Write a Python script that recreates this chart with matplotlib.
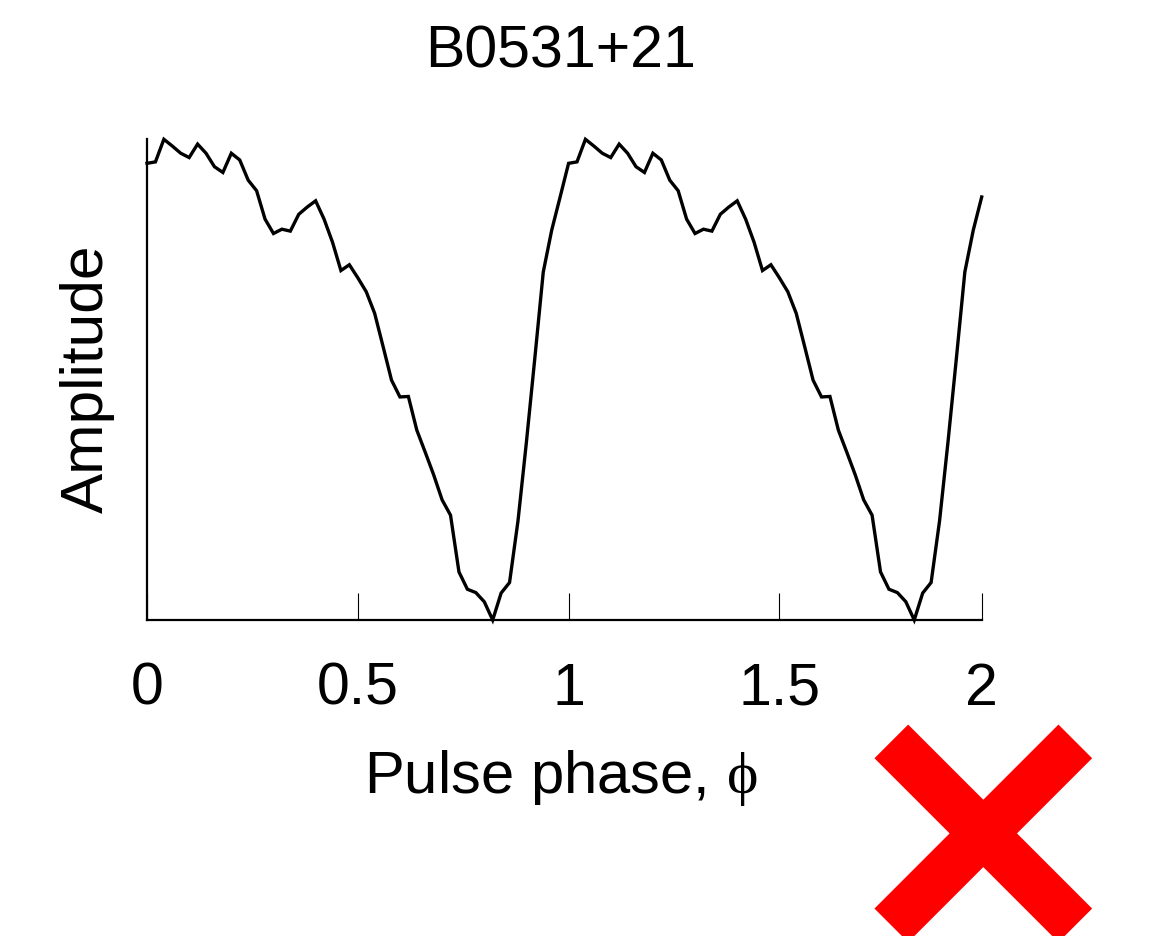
import numpy as np
import matplotlib
matplotlib.use("Agg")
import matplotlib.pyplot as plt
from matplotlib.lines import Line2D

# --- profile data: one rotation, 50 phase bins, normalised to the peak ---
N_BINS = 50
N_CYCLES = 2
profile = [
    0.950, 0.953, 1.000, 0.986, 0.971, 0.962, 0.990, 0.971, 0.943, 0.931,
    0.971, 0.957, 0.915, 0.893, 0.834, 0.804, 0.813, 0.809, 0.844, 0.859,
    0.872, 0.834, 0.786, 0.727, 0.739, 0.712, 0.683, 0.638, 0.569, 0.499,
    0.464, 0.465, 0.395, 0.349, 0.302, 0.250, 0.218, 0.100, 0.064, 0.057,
    0.038, 0.000, 0.056, 0.078, 0.206, 0.370, 0.545, 0.724, 0.811, 0.880,
]
tick_values = [0, 0.5, 1, 1.5]
tick_labels = ["0", "0.5", "1", "1.5", "2"]
pulsar_name = "B0531+21"

# two cycles of the same profile, as is usual for pulse profiles
phase = np.arange(N_BINS * N_CYCLES) / N_BINS
amp = np.tile(profile, N_CYCLES)

plt.rcParams['font.family'] = ['Liberation Sans', 'DejaVu Sans']
plt.rcParams['mathtext.fontset'] = 'custom'
plt.rcParams['mathtext.rm'] = 'Liberation Serif'
plt.rcParams['mathtext.it'] = 'Liberation Serif'

W, H = 1151, 936
fig = plt.figure(figsize=(W / 100, H / 100), dpi=100)
ax = fig.add_axes([147 / W, 1 - 620 / H, (981.7 - 147) / W, (620 - 139.3) / H])

ax.plot(phase, amp, color='black', lw=2.4, clip_on=False,
        solid_joinstyle='miter')

ax.set_xlim(phase[0], phase[-1])
ax.set_ylim(0, max(profile))

for side in ['top', 'right']:
    ax.spines[side].set_visible(False)
for side in ['left', 'bottom']:
    ax.spines[side].set_linewidth(1.6)

# last tick sits at the end of the axis
ax.set_xticks(tick_values + [phase[-1]])
ax.set_xticklabels(tick_labels)
ax.set_yticks([])
ax.tick_params(axis='x', direction='in', length=19.5, width=0.8,
               pad=30, labelsize=42.5)

fig.text(561 / W, 1 - 68 / H, pulsar_name, ha='center', va='baseline',
         fontsize=42.5)
fig.text(561 / W, 1 - 793 / H, r"Pulse phase, $\mathrm{\phi}$",
         ha='center', va='baseline', fontsize=43)
fig.text(87 / W, 1 - 379 / H, "Amplitude", rotation=90,
         ha='center', va='center', fontsize=43.5)

# red cross in the lower right corner
cx, cy, half = 983.3, 833.4, 92.0
for dx in (-half, half):
    fig.add_artist(Line2D([(cx + dx) / W, (cx - dx) / W],
                          [1 - (cy - half) / H, 1 - (cy + half) / H],
                          color='#ff0000', lw=34.3, solid_capstyle='butt'))

fig.savefig("out.png", dpi=100)
